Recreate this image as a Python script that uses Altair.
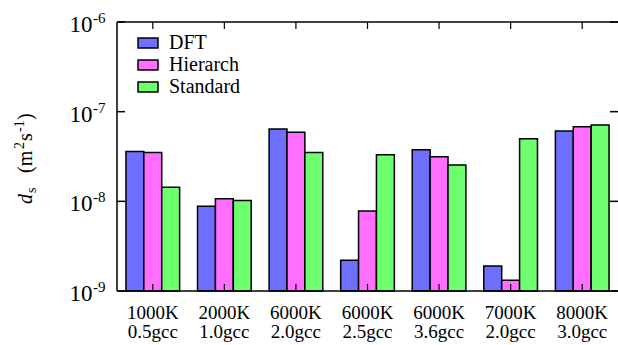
import altair as alt
import pandas as pd

# ---- data ----
conditions = ["1000K 0.5gcc", "2000K 1.0gcc", "6000K 2.0gcc", "6000K 2.5gcc",
              "6000K 3.6gcc", "7000K 2.0gcc", "8000K 3.0gcc"]
series = ["DFT", "Hierarch", "Standard"]
dft = [3.6e-8, 8.8e-9, 6.4e-8, 2.2e-9, 3.75e-8, 1.9e-9, 6.1e-8]
hierarch = [3.5e-8, 1.07e-8, 5.9e-8, 7.8e-9, 3.15e-8, 1.32e-9, 6.8e-8]
standard = [1.44e-8, 1.02e-8, 3.5e-8, 3.3e-8, 2.55e-8, 5.0e-8, 7.1e-8]
decade_exps = [-9, -8, -7, -6]
colors = ["#6e6eff", "#ff6eff", "#6eff6e"]

W, H = 501, 269
FONT = "Liberation Serif, Times New Roman, serif"

rows = []
for s, vals in zip(series, [dft, hierarch, standard]):
    for c, v in zip(conditions, vals):
        rows.append({"cond": c, "series": s, "value": v})
df = pd.DataFrame(rows)
cond_df = pd.DataFrame({"cond": conditions})
dec_df = pd.DataFrame({"v": [10.0 ** e for e in decade_exps],
                       "exp": [str(e) for e in decade_exps]})

yscale = alt.Scale(type="log", domain=[1e-9, 1e-6], nice=False)
xaxis = alt.Axis(title=None, ticks=False, domain=False, labelAngle=0,
                 labelFont=FONT, labelFontSize=19, labelColor="black",
                 labelLineHeight=19, labelPadding=12,
                 labelExpr="split(datum.label, ' ')")
xenc = alt.X("cond:N", sort=conditions, axis=xaxis,
             scale=alt.Scale(paddingInner=0.25, paddingOuter=0.125))

bars = alt.Chart(df).mark_bar(stroke="black", strokeWidth=1.5).encode(
    x=xenc,
    xOffset=alt.XOffset("series:N", sort=series,
                        scale=alt.Scale(paddingInner=0, paddingOuter=0)),
    y=alt.Y("value:Q", scale=yscale, axis=None),
    y2=alt.Y2(datum=1e-9),
    color=alt.Color("series:N", sort=series,
                    scale=alt.Scale(domain=series, range=colors),
                    legend=alt.Legend(
                        title=None, orient="none", legendX=20, legendY=10,
                        padding=0, offset=0,
                        symbolType="M-1,-0.5L1,-0.5L1,0.5L-1,0.5Z",
                        symbolSize=400, symbolStrokeColor="black",
                        symbolStrokeWidth=1.5, symbolOpacity=1,
                        labelFont=FONT, labelFontSize=20, labelColor="black",
                        labelOffset=10, rowPadding=1)),
)

# x ticks (bottom and top, inward)
xt_bottom = alt.Chart(cond_df).mark_rule(color="black", strokeWidth=1.2).encode(
    x=xenc, y=alt.value(H - 7), y2=alt.value(H))
xt_top = alt.Chart(cond_df).mark_rule(color="black", strokeWidth=1.2).encode(
    x=xenc, y=alt.value(0), y2=alt.value(7))

# y ticks (left and right, inward)
yt_left = alt.Chart(dec_df).mark_rule(color="black", strokeWidth=1.5).encode(
    y=alt.Y("v:Q", scale=yscale, axis=None), x=alt.value(0), x2=alt.value(8))
yt_right = alt.Chart(dec_df).mark_rule(color="black", strokeWidth=1.5).encode(
    y=alt.Y("v:Q", scale=yscale, axis=None), x=alt.value(W - 8), x2=alt.value(W))

# y tick labels 10^n
ylab_base = alt.Chart(dec_df).mark_text(
    text="10", font=FONT, fontSize=23, align="right", baseline="alphabetic",
    dy=10, color="black").encode(
    y=alt.Y("v:Q", scale=yscale, axis=None), x=alt.value(-24.5))
ylab_exp = alt.Chart(dec_df).mark_text(
    font=FONT, fontSize=15, align="left", baseline="alphabetic",
    dy=1, color="black").encode(
    y=alt.Y("v:Q", scale=yscale, axis=None), x=alt.value(-24),
    text="exp:N")

# border lines (left, top, bottom)
one = alt.Data(values=[{}])
border_left = alt.Chart(one).mark_rule(color="black", strokeWidth=1.5).encode(
    x=alt.value(0), y=alt.value(0), y2=alt.value(H))
border_top = alt.Chart(one).mark_rule(color="black", strokeWidth=1.5).encode(
    x=alt.value(0), x2=alt.value(W), y=alt.value(0))
border_bottom = alt.Chart(one).mark_rule(color="black", strokeWidth=1.5).encode(
    x=alt.value(0), x2=alt.value(W), y=alt.value(H))

# y axis title pieces (rotated):  d_s (m^2 s^-1)
def tpiece(txt, ypos, xbase, size, style="normal"):
    return alt.Chart(alt.Data(values=[{}])).mark_text(
        text=txt, font=FONT, fontSize=size, fontStyle=style, angle=270,
        align="left", baseline="alphabetic", color="black").encode(
        x=alt.value(xbase), y=alt.value(ypos))

title_layers = [
    tpiece("d", 182, -85, 20, "italic"),
    tpiece("s", 171, -81, 14),
    tpiece("(m", 151, -85, 20),
    tpiece("2", 127, -93, 14),
    tpiece("s", 119, -85, 20),
    tpiece("-1", 110, -93, 14),
    tpiece(")", 98, -85, 20),
]

chart = alt.layer(
    bars, xt_bottom, xt_top, yt_left, yt_right, ylab_base, ylab_exp,
    border_left, border_top, border_bottom, *title_layers
).properties(
    width=W, height=H,
    autosize=alt.AutoSizeParams(type="none"),
    padding={"left": 117, "top": 22, "right": 0, "bottom": 54},
).configure_view(strokeWidth=0)

chart.save("out.html", embed_options={"renderer": "svg", "actions": False})
